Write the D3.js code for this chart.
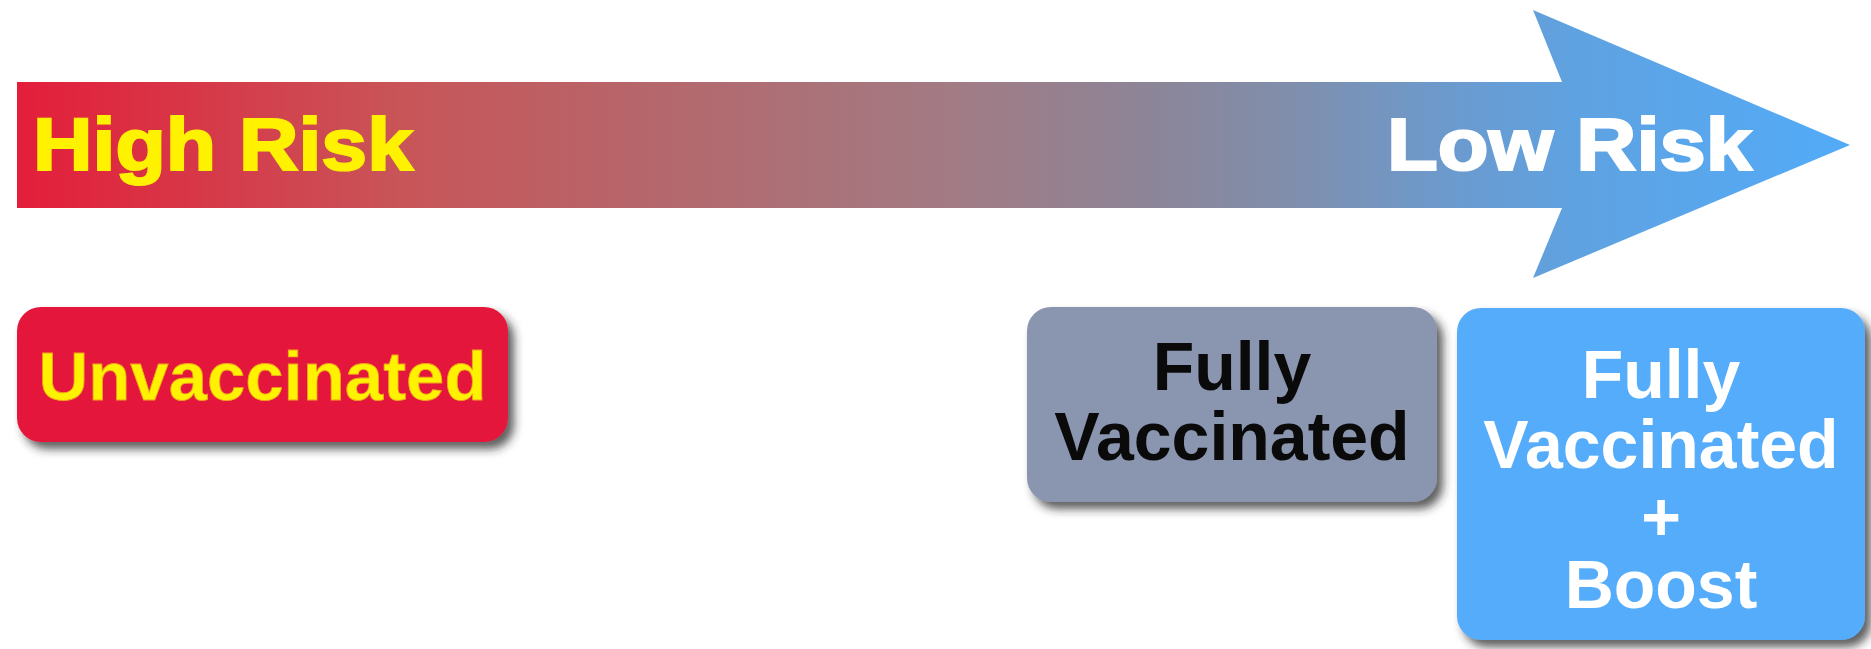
<!DOCTYPE html>
<html>
<head>
<meta charset="utf-8">
<script src="https://cdn.jsdelivr.net/npm/d3@7"></script>
<style>
html,body{margin:0;padding:0;background:#fff;}
svg{display:block;}
text{font-family:"Liberation Sans",Arial,Helvetica,sans-serif;font-weight:bold;}
</style>
</head>
<body>
<svg id="chart" width="1871" height="649"></svg>
<script>
// ---- data ----
const riskLabels = ["High Risk", "Low Risk"];
const riskPositions = [0, 1];               // ends of the risk scale
const categories = ["Unvaccinated", "Fully Vaccinated", "Fully Vaccinated + Boost"];
const categoryLines = [["Unvaccinated"], ["Fully", "Vaccinated"], ["Fully", "Vaccinated", "+", "Boost"]];

// ---- layout ----
const W = 1871, H = 649;
const svg = d3.select("#chart");
const defs = svg.append("defs");

const x = d3.scaleLinear().domain([0, 1]).range([17, 1850]);

// gradient along the arrow
const grad = defs.append("linearGradient").attr("id", "riskGrad")
  .attr("gradientUnits", "userSpaceOnUse")
  .attr("x1", x(0)).attr("x2", x(1)).attr("y1", 0).attr("y2", 0);
const stops = [
  [0.00, "#e41e3a"], [0.21, "#c85558"], [0.37, "#b26a6f"], [0.51, "#a27b84"],
  [0.62, "#8c8598"], [0.70, "#7f8fae"], [0.78, "#6c9acd"], [0.85, "#5fa2e1"], [1.00, "#52abf8"]
];
grad.selectAll("stop").data(stops).join("stop")
  .attr("offset", d => d[0]).attr("stop-color", d => d[1]);

// drop shadow
const f = defs.append("filter").attr("id", "shadow")
  .attr("x", "-10%").attr("y", "-10%").attr("width", "130%").attr("height", "140%");
f.append("feDropShadow").attr("dx", 6).attr("dy", 7).attr("stdDeviation", 5)
  .attr("flood-color", "#2a2a2a").attr("flood-opacity", 0.75);

// ---- arrow ----
const shaftTop = 82, shaftBot = 208, headTop = 10, headBot = 278;
const headBackX = 1533, headNeckX = 1562;
const mid = (shaftTop + shaftBot) / 2;
const p = d3.path();
p.moveTo(x(0), shaftTop);
p.lineTo(headNeckX, shaftTop);
p.lineTo(headBackX, headTop);
p.lineTo(x(1), mid);
p.lineTo(headBackX, headBot);
p.lineTo(headNeckX, shaftBot);
p.lineTo(x(0), shaftBot);
p.closePath();
svg.append("path").attr("d", p.toString()).attr("fill", "url(#riskGrad)");

// risk labels
const riskText = [
  {x: 33, len: 380, fill: "#fff200", stroke: "#fff200"},
  {x: 1387, len: 365, fill: "#ffffff", stroke: "#ffffff"}
];
svg.selectAll("text.risk").data(riskLabels).join("text")
  .attr("class", "risk")
  .attr("x", (d, i) => riskText[i].x)
  .attr("y", 170)
  .attr("font-size", 74)
  .attr("fill", (d, i) => riskText[i].fill)
  .attr("stroke", (d, i) => riskText[i].stroke)
  .attr("stroke-width", 2.2)
  .attr("stroke-linejoin", "miter")
  .attr("textLength", (d, i) => riskText[i].len)
  .attr("lengthAdjust", "spacingAndGlyphs")
  .text(d => d);

// ---- category boxes ----
const boxes = [
  {x0: 17,   x1: 508,  y0: 307, y1: 442, fill: "#e4193a", text: "#fff200", base: 400, size: 69, lens: [448]},
  {x0: 1027, x1: 1437, y0: 307, y1: 502, fill: "#8a96af", text: "#0a0a0a", base: 390, size: 68, lens: [null, null]},
  {x0: 1457, x1: 1865, y0: 308, y1: 640, fill: "#54acfa", text: "#ffffff", base: 398, size: 68, lens: [null, null, null, null]}
];
const lineOffsets = [[0], [0, 70], [0, 70, 142, 210]];

const g = svg.selectAll("g.cat").data(categories).join("g").attr("class", "cat");
g.append("rect")
  .attr("x", (d, i) => boxes[i].x0)
  .attr("y", (d, i) => boxes[i].y0)
  .attr("width", (d, i) => boxes[i].x1 - boxes[i].x0)
  .attr("height", (d, i) => boxes[i].y1 - boxes[i].y0)
  .attr("rx", 24).attr("ry", 24)
  .attr("fill", (d, i) => boxes[i].fill)
  .attr("filter", "url(#shadow)");

g.each(function (d, i) {
  const b = boxes[i];
  const cx = (b.x0 + b.x1) / 2;
  d3.select(this).selectAll("text").data(categoryLines[i]).join("text")
    .attr("x", cx)
    .attr("y", (t, j) => b.base + lineOffsets[i][j])
    .attr("text-anchor", "middle")
    .attr("font-size", b.size)
    .attr("fill", b.text)
    .attr("stroke", i === 0 ? "#f0a020" : "none")
    .attr("stroke-width", i === 0 ? 0.8 : 0)
    .each(function (t, j) {
      if (b.lens[j]) d3.select(this).attr("textLength", b.lens[j]).attr("lengthAdjust", "spacingAndGlyphs");
    })
    .text(t => t);
});
</script>
</body>
</html>
